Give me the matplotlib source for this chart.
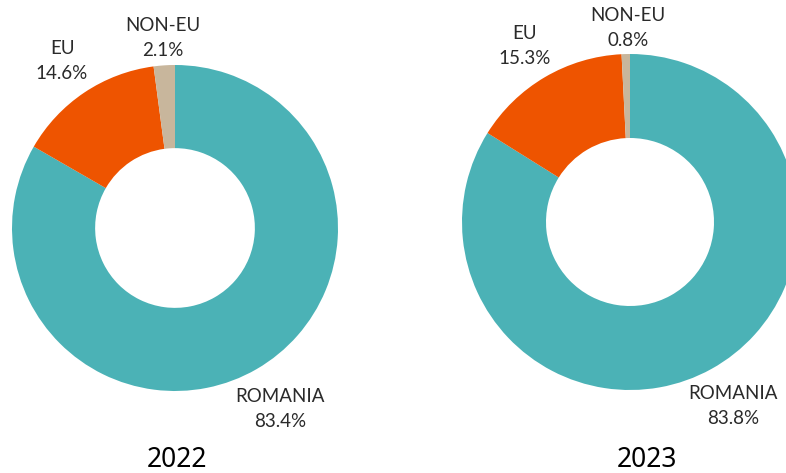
import matplotlib
matplotlib.use("Agg")
import matplotlib.pyplot as plt

categories = ["ROMANIA", "EU", "NON-EU"]
values_2022 = [83.4, 14.6, 2.1]
values_2023 = [83.8, 15.3, 0.8]
years = ["2022", "2023"]
colors = ["#4BB2B6", "#EE5400", "#C8B69C"]

W, H = 786, 473
fig = plt.figure(figsize=(W / 100, H / 100), dpi=100)

def add_pie_axes(cx, cy, r):
    # cx, cy in image pixel coords (top-left origin)
    fy = H - cy
    ax = fig.add_axes([(cx - r) / W, (fy - r) / H, 2 * r / W, 2 * r / H])
    return ax

label_font = dict(family=["Lato", "DejaVu Sans"], fontweight="normal", color="#2a2a2a",
                  fontsize=13.5, ha="center", va="center", linespacing=1.6)
year_font = dict(family=["Noto Sans", "DejaVu Sans"], color="#000000", fontsize=19,
                 ha="center", va="center")

def ftext(x, y, s, **kw):
    fig.text(x / W, 1 - y / H, s, **kw)

specs = [
    (values_2022, (175, 228, 163), 0.49,
     {"ROMANIA": (280, 409), "EU": (62, 61), "NON-EU": (163, 38)}, (177, 460)),
    (values_2023, (630, 222, 168), 0.50,
     {"ROMANIA": (733, 406), "EU": (525, 46), "NON-EU": (628, 28)}, (647, 460)),
]

for (vals, (cx, cy, r), hole, lab_pos, ypos), year in zip(specs, years):
    ax = add_pie_axes(cx, cy, r)
    ax.pie(vals, colors=colors, startangle=90, counterclock=False, radius=1,
           wedgeprops=dict(width=1 - hole, linewidth=0))
    ax.set_xlim(-1, 1)
    ax.set_ylim(-1, 1)
    ax.set_aspect("equal")
    ax.axis("off")
    for cat, v in zip(categories, vals):
        x, y = lab_pos[cat]
        ftext(x, y, f"{cat}\n{v:.1f}%", **label_font)
    ftext(ypos[0], ypos[1], year, **year_font)

fig.savefig("out.png", dpi=100)
